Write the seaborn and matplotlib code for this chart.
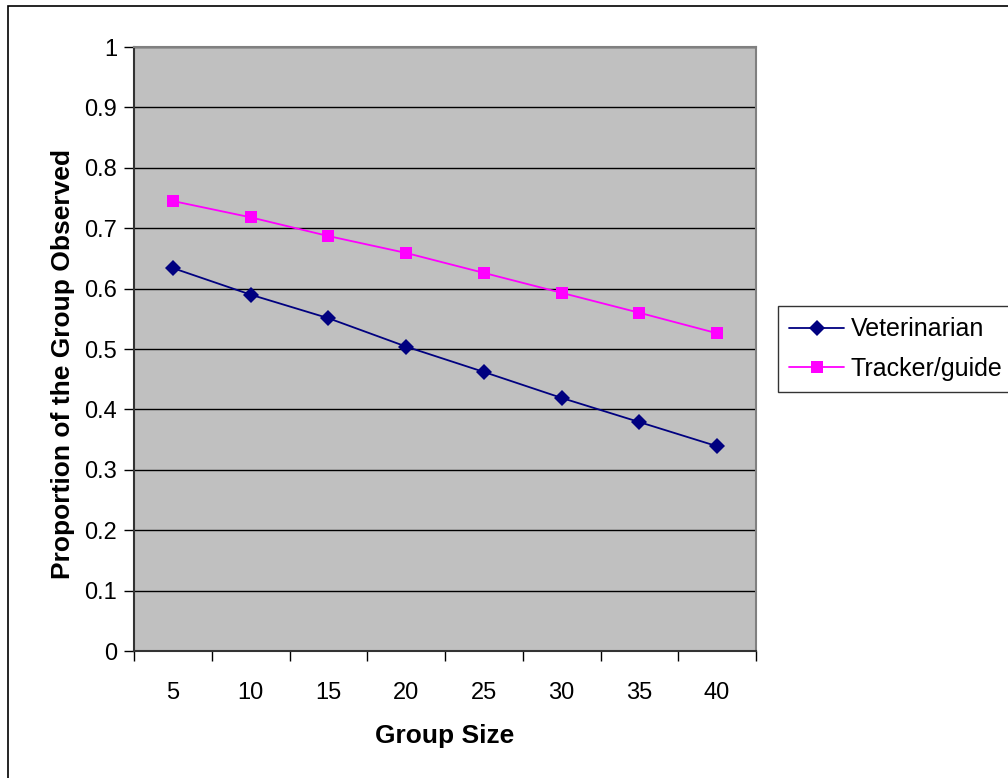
import matplotlib
matplotlib.use("Agg")
import matplotlib.pyplot as plt
import seaborn as sns
import pandas as pd
import numpy as np
from matplotlib.patches import Rectangle
from matplotlib.lines import Line2D

group_size = [5, 10, 15, 20, 25, 30, 35, 40]
veterinarian = [0.634, 0.590, 0.551, 0.504, 0.462, 0.419, 0.379, 0.339]
tracker_guide = [0.745, 0.718, 0.687, 0.659, 0.626, 0.593, 0.560, 0.526]
series_names = ["Veterinarian", "Tracker/guide"]
y_ticks = [0, 0.1, 0.2, 0.3, 0.4, 0.5, 0.6, 0.7, 0.8, 0.9, 1]
y_tick_labels = ["0", "0.1", "0.2", "0.3", "0.4", "0.5", "0.6", "0.7", "0.8", "0.9", "1"]

df = pd.DataFrame({
    "Group Size": group_size * 2,
    "Proportion": veterinarian + tracker_guide,
    "Series": [series_names[0]] * len(group_size) + [series_names[1]] * len(group_size),
})

sns.set_style("white")
plt.rcParams["font.family"] = ["Liberation Sans", "DejaVu Sans"]
plt.rcParams["text.color"] = "black"
plt.rcParams["axes.labelcolor"] = "black"
plt.rcParams["xtick.color"] = "black"
plt.rcParams["ytick.color"] = "black"

W, H = 1008, 778
fig = plt.figure(figsize=(W / 100, H / 100), dpi=100)
ax = fig.add_axes([134 / W, (H - 651) / H, (756 - 134) / W, (651 - 47) / H])
ax.set_facecolor("#C0C0C0")

sns.lineplot(data=df, x="Group Size", y="Proportion", hue="Series", style="Series",
             palette={"Veterinarian": "#000080", "Tracker/guide": "#FF00FF"},
             markers={"Veterinarian": "D", "Tracker/guide": "s"},
             dashes=False, markersize=8, markeredgewidth=0, linewidth=1.3,
             ax=ax, legend=False, zorder=3)

ax.set_ylim(0, 1)
ax.set_xlim(2.5, 42.5)
ax.set_yticks(y_ticks)
ax.set_yticklabels(y_tick_labels)
ax.yaxis.grid(True, color="black", linewidth=1.0, zorder=1)
ax.set_axisbelow(True)

# category ticks between categories, labels at category centers
edges = [g - 2.5 for g in group_size] + [group_size[-1] + 2.5]
ax.set_xticks(edges)
ax.set_xticklabels([""] * len(edges))
ax.set_xticks(group_size, minor=True)
ax.set_xticklabels([str(g) for g in group_size], minor=True)
ax.tick_params(axis="x", which="major", direction="out", length=7, width=1, color="black", bottom=True)
ax.tick_params(axis="x", which="minor", length=0, pad=22, labelsize=17, labelcolor="black")
ax.tick_params(axis="y", direction="out", length=7, width=1, color="black", left=True,
               labelsize=17, pad=5, labelcolor="black")

for s in ["left", "bottom"]:
    ax.spines[s].set_color("#333333")
    ax.spines[s].set_linewidth(1.5)
for s in ["top", "right"]:
    ax.spines[s].set_color("#808080")
    ax.spines[s].set_linewidth(1.5)
    ax.spines[s].set_visible(True)

ax.set_xlabel("Group Size", fontsize=19, fontweight="bold", labelpad=15, color="black")
ax.set_ylabel("Proportion of the Group Observed", fontsize=19, fontweight="bold", labelpad=7, color="black")
ax.yaxis.label.set_y(0.475)

# legend
handles = [
    Line2D([], [], color="#000080", marker="D", markersize=8, markeredgewidth=0, linewidth=1.3),
    Line2D([], [], color="#FF00FF", marker="s", markersize=8, markeredgewidth=0, linewidth=1.3),
]
leg = fig.legend(handles, series_names, loc="upper left",
                 bbox_to_anchor=(778 / W, 1 - 306 / H), fontsize=18,
                 frameon=True, fancybox=False, edgecolor="black", borderpad=0.45,
                 handlelength=2.2, handletextpad=0.25, labelspacing=0.62, borderaxespad=0)
leg.get_frame().set_linewidth(1.0)
for t in leg.get_texts():
    t.set_color("black")

# outer chart frame
fig.patches.append(Rectangle((8 / W, -0.01), 1.1, 1 - 6 / H + 0.01, transform=fig.transFigure,
                             fill=False, edgecolor="black", linewidth=1.2, clip_on=False))

fig.savefig("out.png", dpi=100)
